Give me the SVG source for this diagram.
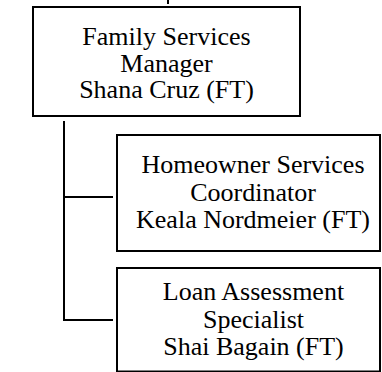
<svg xmlns="http://www.w3.org/2000/svg" width="382" height="372" viewBox="0 0 382 372">
<style>
.box{fill:#fff;stroke:#000;stroke-width:2}
.t{font-family:"Liberation Serif","Times New Roman",serif;font-size:26px;fill:#000;text-anchor:middle}
.c{stroke:#000;stroke-width:2;fill:none}
</style>
<rect width="382" height="372" fill="#fff"/>
<g id="connectors">
<line class="c" x1="168" y1="0" x2="168" y2="4"/>
<polyline class="c" points="64,121 64,320 113,320"/>
<line class="c" x1="64" y1="197" x2="113" y2="197"/>
</g>
<g id="n1">
<rect class="box" x="33" y="7" width="267" height="109"/>
<text class="t" x="166.5" y="45">Family Services</text>
<text class="t" x="166.5" y="71.7">Manager</text>
<text class="t" x="166.5" y="98.4">Shana Cruz (FT)</text>
</g>
<g id="n2">
<rect class="box" x="117" y="135" width="263" height="116"/>
<text class="t" x="253" y="173.3">Homeowner Services</text>
<text class="t" x="253" y="200.5">Coordinator</text>
<text class="t" x="253" y="228">Keala Nordmeier (FT)</text>
</g>
<g id="n3">
<rect class="box" x="117" y="268" width="263" height="103.5"/>
<text class="t" x="253.5" y="300">Loan Assessment</text>
<text class="t" x="253.5" y="327.5">Specialist</text>
<text class="t" x="253.5" y="354.5">Shai Bagain (FT)</text>
</g>
</svg>
